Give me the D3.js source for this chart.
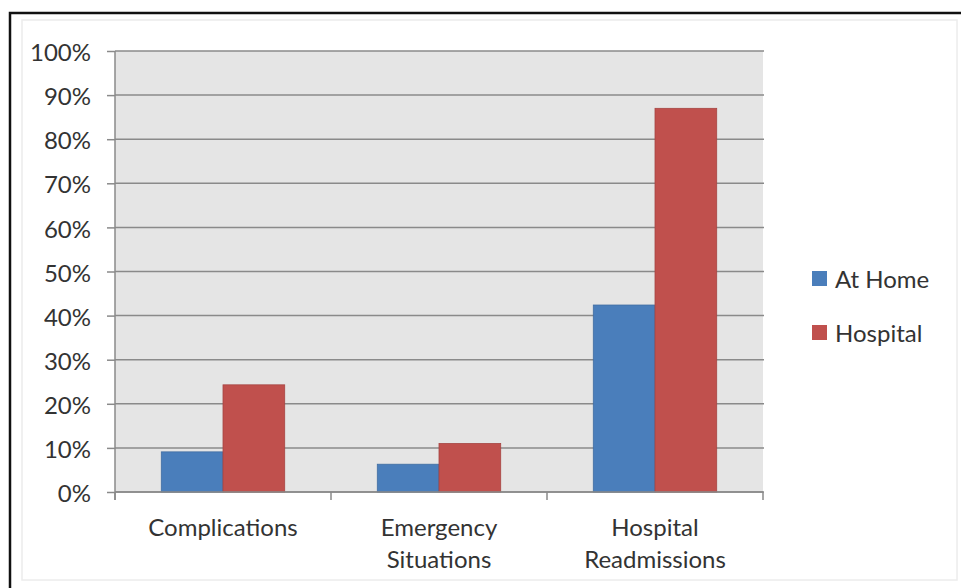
<!DOCTYPE html>
<html>
<head>
<meta charset="utf-8">
<script src="https://cdn.jsdelivr.net/npm/d3@7"></script>
<style>
  html, body { margin: 0; padding: 0; background: #fff; }
  svg { display: block; }
  text { font-family: "Lato", "Open Sans", sans-serif; fill: #333; }
</style>
</head>
<body>
<svg id="chart" width="961" height="588"></svg>
<script>
// Outcome rates by care setting
const categories = [["Complications"], ["Emergency", "Situations"], ["Hospital", "Readmissions"]];
const seriesNames = ["At Home", "Hospital"];
const atHome = [0.091, 0.063, 0.424];
const hospital = [0.243, 0.110, 0.870];
const yTicks = [0, 0.1, 0.2, 0.3, 0.4, 0.5, 0.6, 0.7, 0.8, 0.9, 1.0];
const colors = ["#4a7ebb", "#c0504d"];
const fontSize = 24;

const svg = d3.select("#chart");
const plot = { left: 115, right: 763, top: 51, bottom: 492 };

// outer frame
svg.append("rect").attr("x", 22).attr("y", 20).attr("width", 935).attr("height", 560)
  .attr("fill", "none").attr("stroke", "#ececec").attr("stroke-width", 1.5);
svg.append("path").attr("d", "M10,600 L10,13 L961,13")
  .attr("fill", "none").attr("stroke", "#111").attr("stroke-width", 2.5);

const keys = categories.map(c => c.join(" "));
const x0 = d3.scaleBand().domain(keys).range([plot.left, plot.right]).padding(0);
const x1 = d3.scaleBand().domain(seriesNames).range([0, x0.bandwidth()])
  .paddingInner(0).paddingOuter(0.75);
const y = d3.scaleLinear().domain([0, 1]).range([plot.bottom, plot.top]);

// plot background
svg.append("rect")
  .attr("x", plot.left).attr("y", plot.top)
  .attr("width", plot.right - plot.left).attr("height", plot.bottom - plot.top)
  .attr("fill", "#e5e5e5");

// value axis with gridlines
const yAxis = svg.append("g")
  .attr("transform", `translate(${plot.left},0)`)
  .call(d3.axisLeft(y).tickValues(yTicks).tickFormat(d3.format(".0%"))
    .tickSize(8).tickPadding(16));
yAxis.select(".domain").remove();
yAxis.selectAll(".tick line").attr("stroke", "#8a8a8a").attr("stroke-width", 1.5);
yAxis.selectAll(".tick text").attr("font-size", fontSize).attr("dy", "0.4em")
  .style("font-family", "Lato, 'Open Sans', sans-serif").style("fill", "#333");

svg.append("g").selectAll("line").data(yTicks).join("line")
  .attr("x1", plot.left).attr("x2", plot.right + 1)
  .attr("y1", d => y(d)).attr("y2", d => y(d))
  .attr("stroke", "#8a8a8a").attr("stroke-width", 1.5);

svg.append("line")
  .attr("x1", plot.left).attr("x2", plot.left)
  .attr("y1", plot.top).attr("y2", plot.bottom + 8)
  .attr("stroke", "#8a8a8a").attr("stroke-width", 1.5);

// bars
const rows = keys.map((k, i) => ({ key: k, values: [atHome[i], hospital[i]] }));
const groups = svg.append("g").selectAll("g").data(rows).join("g")
  .attr("transform", d => `translate(${x0(d.key)},0)`);
groups.selectAll("rect").data(d => d.values.map((v, j) => ({ name: seriesNames[j], v, j })))
  .join("rect")
  .attr("x", d => x1(d.name))
  .attr("width", x1.bandwidth())
  .attr("y", d => y(d.v))
  .attr("height", d => y(0) - y(d.v))
  .attr("fill", d => colors[d.j])
  .attr("stroke", d => d3.color(colors[d.j]).darker(0.4))
  .attr("stroke-width", 0.8);

// category axis
const xAxis = svg.append("g")
  .attr("transform", `translate(0,${plot.bottom})`);
xAxis.append("line").attr("x1", plot.left).attr("x2", plot.right)
  .attr("stroke", "#8a8a8a").attr("stroke-width", 1.5);
const boundaries = keys.map(k => x0(k)).concat([plot.right]);
xAxis.selectAll("line.tk").data(boundaries).join("line").attr("class", "tk")
  .attr("x1", d => d).attr("x2", d => d).attr("y1", 0).attr("y2", 8)
  .attr("stroke", "#8a8a8a").attr("stroke-width", 1.5);

svg.append("g").selectAll("text").data(categories).join("text")
  .attr("x", (d, i) => x0(keys[i]) + x0.bandwidth() / 2)
  .attr("y", 536)
  .attr("text-anchor", "middle")
  .attr("font-size", fontSize)
  .selectAll("tspan").data(d => d).join("tspan")
  .attr("x", function () { return this.parentNode.getAttribute("x"); })
  .attr("dy", (d, i) => i === 0 ? 0 : 32)
  .text(d => d);

// legend
const legend = svg.append("g").selectAll("g").data(seriesNames).join("g")
  .attr("transform", (d, i) => `translate(812,${271 + i * 54})`);
legend.append("rect").attr("width", 15).attr("height", 15)
  .attr("fill", (d, i) => colors[i]);
legend.append("text").attr("x", 23).attr("y", 8).attr("dy", "0.36em")
  .attr("font-size", fontSize).text(d => d);
</script>
</body>
</html>
